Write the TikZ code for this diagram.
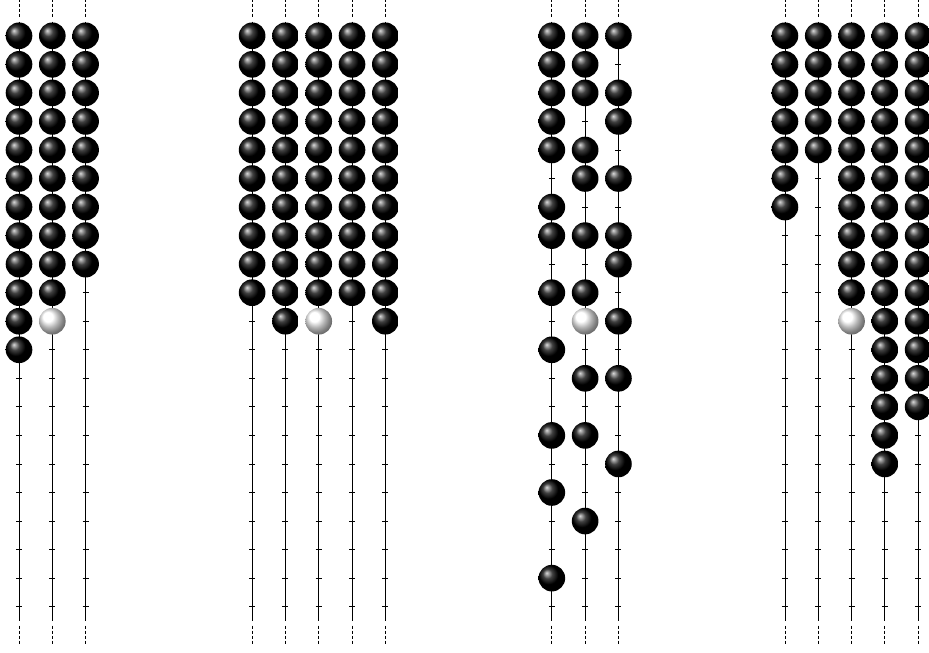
\documentclass[tikz,border=0pt]{standalone}
\usepackage{tikz}

\begin{document}
\begin{tikzpicture}[x=0.7cm, y=-0.6cm,
    rod/.style={line width=0.5pt},
    rod end/.style={line width=0.5pt, dash pattern=on 2pt off 1pt},
    bead/.style={circle, inner sep=0pt, minimum size=0.56cm, shading=ball, ball color=black},
    blank bead/.style={bead, ball color=white}]
    \useasboundingbox (-0.571,-1.254) rectangle (27.326,21.62);
    \foreach \c in {0,1,2,7,8,9,10,11,16,17,18,23,24,25,26,27} {
      \draw[rod] (\c,-0.5) -- (\c,20.5);
      \draw[rod end] (\c,-1.3) -- (\c,-0.63);
      \draw[rod end] (\c,20.66) -- (\c,21.3);
      \foreach \r in {0,...,20}
        \draw[rod] (\c-0.09,\r) -- (\c+0.09,\r);
    }
    \foreach \c/\rows in {0/{0,...,11}, 1/{0,...,9}, 2/{0,...,8},
        7/{0,...,9}, 8/{0,...,10}, 9/{0,...,9}, 10/{0,...,9}, 11/{0,...,10},
        16/{0,1,2,3,4,6,7,9,11,14,16,19}, 17/{0,1,2,4,5,7,9,12,14,17}, 18/{0,2,3,5,7,8,10,12,15},
        23/{0,...,6}, 24/{0,...,4}, 25/{0,...,9}, 26/{0,...,15}, 27/{0,...,13}}
      \foreach \r in \rows
        \node[bead] (b\c-\r) at (\c,\r) {};
    \foreach \c in {1,9,17,25}
      \node[blank bead] (w\c) at (\c,10) {};
  \end{tikzpicture}
\end{document}
